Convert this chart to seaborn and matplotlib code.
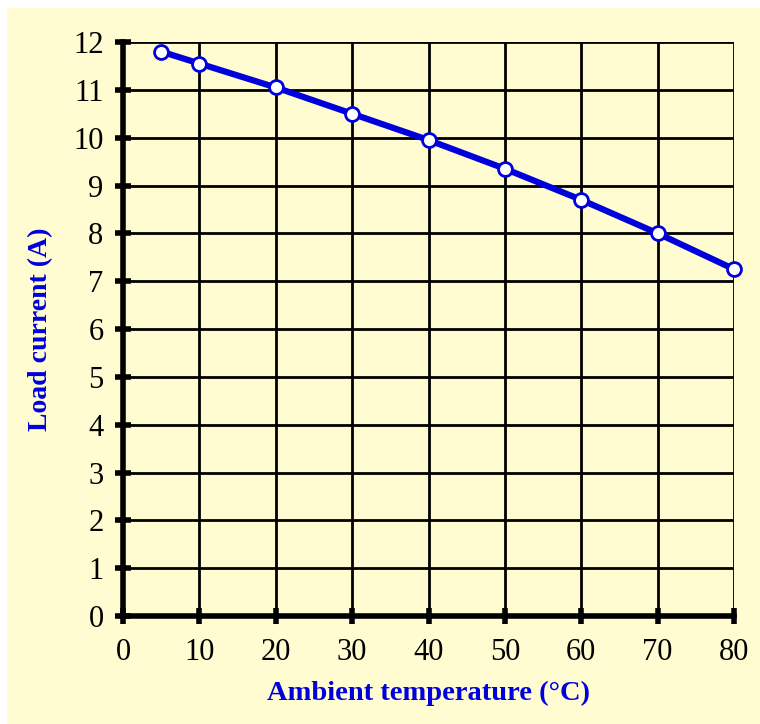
import matplotlib
matplotlib.use("Agg")
import matplotlib.pyplot as plt
import seaborn as sns
import pandas as pd
from matplotlib.patches import Rectangle

temperature = [5, 10, 20, 30, 40, 50, 60, 70, 80]
load_current = [11.8, 11.55, 11.05, 10.5, 9.95, 9.35, 8.7, 8.0, 7.25]
x_ticks = [0, 10, 20, 30, 40, 50, 60, 70, 80]
y_ticks = list(range(0, 13))

df = pd.DataFrame({"Ambient temperature (°C)": temperature,
                   "Load current (A)": load_current})

sns.set_theme(style="white")
plt.rcParams['font.family'] = ['Liberation Serif', 'DejaVu Serif']

bg = "#FEFCD0"
blue = "#0000DD"

fig = plt.figure(figsize=(7.6, 7.24), dpi=100, facecolor="white")
fig.patches.append(Rectangle((7/760, 0), 1, 1 - 8/724, transform=fig.transFigure,
                             facecolor=bg, edgecolor="none", zorder=-10))
ax = fig.add_axes([123/760, 1 - 616/724, (734 - 123)/760, (616 - 42)/724])
ax.set_facecolor(bg)

sns.lineplot(data=df, x="Ambient temperature (°C)", y="Load current (A)", ax=ax,
             color=blue, linewidth=4.5, marker="o", markersize=10,
             markerfacecolor="white", markeredgecolor=blue, markeredgewidth=2,
             zorder=5, clip_on=False)

ax.set_xlim(0, 80)
ax.set_ylim(0, 12)
ax.set_xticks(x_ticks)
ax.set_yticks(y_ticks)
ax.grid(True, color="black", linewidth=2)
ax.set_axisbelow(True)

for s in ["top", "right"]:
    ax.spines[s].set_visible(False)
for s in ["left", "bottom"]:
    ax.spines[s].set_color("black")
    ax.spines[s].set_linewidth(4)
    ax.spines[s].set_zorder(6)

ax.tick_params(axis="both", which="major", bottom=True, left=True,
               direction="inout", length=12, width=4, color="black",
               labelsize=22, labelcolor="black")
ax.tick_params(axis="y", pad=8)
ax.tick_params(axis="x", pad=10)

ax.set_xlabel("Ambient temperature (°C)", fontsize=20.5, fontweight="bold", color=blue, labelpad=10)
ax.set_ylabel("Load current (A)", fontsize=20, fontweight="bold", color=blue, labelpad=14)

fig.savefig("out.png", dpi=100, facecolor="white")
